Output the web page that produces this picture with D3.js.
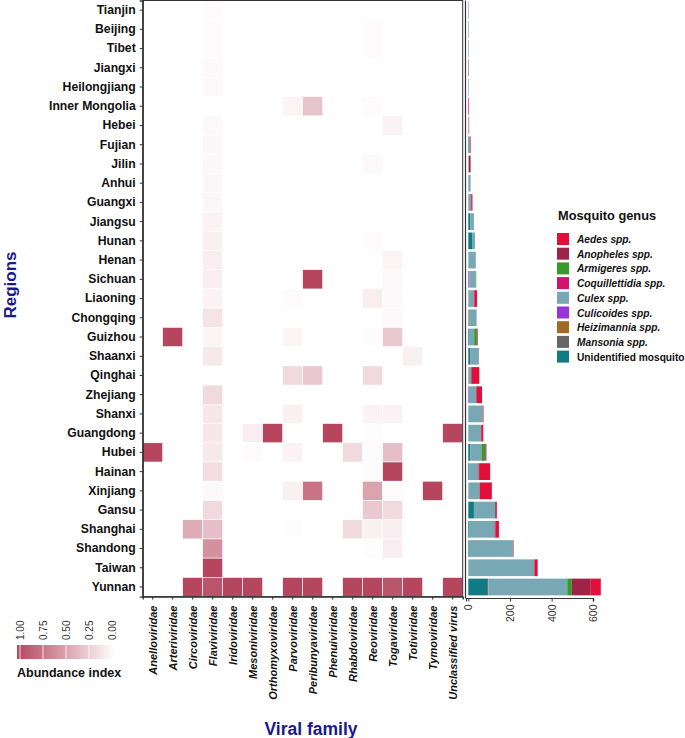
<!DOCTYPE html>
<html>
<head>
<meta charset="utf-8">
<script src="https://cdn.jsdelivr.net/npm/d3@7"></script>
<style>
  body { margin: 0; background: #fff; }
  text { font-family: "Liberation Sans", Arial, sans-serif; }
</style>
</head>
<body>
<svg id="chart" width="685" height="738"></svg>
<script>
var regions = ["Tianjin", "Beijing", "Tibet", "Jiangxi", "Heilongjiang", "Inner Mongolia", "Hebei",
  "Fujian", "Jilin", "Anhui", "Guangxi", "Jiangsu", "Hunan", "Henan", "Sichuan", "Liaoning",
  "Chongqing", "Guizhou", "Shaanxi", "Qinghai", "Zhejiang", "Shanxi", "Guangdong", "Hubei",
  "Hainan", "Xinjiang", "Gansu", "Shanghai", "Shandong", "Taiwan", "Yunnan"];

var families = ["Anelloviridae", "Arteriviridae", "Circoviridae", "Flaviviridae", "Iridoviridae",
  "Mesoniviridae", "Orthomyxoviridae", "Parvoviridae", "Peribunyaviridae", "Phenuiviridae",
  "Rhabdoviridae", "Reoviridae", "Togaviridae", "Totiviridae", "Tymoviridae", "Unclassified virus"];

// abundance index, one row per region, columns follow families
var abundance = [
  [0, 0, 0, 0.02, 0, 0, 0, 0, 0, 0, 0, 0, 0, 0, 0, 0],
  [0, 0, 0, 0.02, 0, 0, 0, 0, 0, 0, 0, 0.02, 0, 0, 0, 0],
  [0, 0, 0, 0.02, 0, 0, 0, 0, 0, 0, 0, 0.02, 0, 0, 0, 0],
  [0, 0, 0, 0.03, 0, 0, 0, 0, 0, 0, 0, 0, 0, 0, 0, 0],
  [0, 0, 0, 0.03, 0, 0, 0, 0, 0, 0, 0, 0, 0, 0, 0, 0],
  [0, 0, 0, 0, 0, 0, 0, 0.06, 0.32, 0, 0, 0.02, 0, 0, 0, 0],
  [0, 0, 0, 0.03, 0, 0, 0, 0, 0, 0, 0, 0, 0.07, 0, 0, 0],
  [0, 0, 0, 0.04, 0, 0, 0, 0, 0, 0, 0, 0, 0, 0, 0, 0],
  [0, 0, 0, 0.04, 0, 0, 0, 0, 0, 0, 0, 0.03, 0, 0, 0, 0],
  [0, 0, 0, 0.05, 0, 0, 0, 0, 0, 0, 0, 0, 0, 0, 0, 0],
  [0, 0, 0, 0.05, 0, 0, 0, 0, 0, 0, 0, 0, 0, 0, 0, 0],
  [0, 0, 0, 0.07, 0, 0, 0, 0, 0, 0, 0, 0, 0, 0, 0, 0],
  [0, 0, 0, 0.08, 0, 0, 0, 0, 0, 0, 0, 0.02, 0, 0, 0, 0],
  [0, 0, 0, 0.09, 0, 0, 0, 0, 0, 0, 0, 0, 0.06, 0, 0, 0],
  [0, 0, 0, 0.09, 0, 0, 0, 0, 1, 0, 0, 0, 0.03, 0, 0, 0],
  [0, 0, 0, 0.07, 0, 0, 0, 0.02, 0, 0, 0, 0.1, 0.03, 0, 0, 0],
  [0, 0, 0, 0.15, 0, 0, 0, 0, 0, 0, 0, 0, 0.03, 0, 0, 0],
  [0, 1, 0, 0.06, 0, 0, 0, 0.06, 0, 0, 0, 0.02, 0.3, 0, 0, 0],
  [0, 0, 0, 0.12, 0, 0, 0, 0, 0, 0, 0, 0, 0, 0.08, 0, 0],
  [0, 0, 0, 0, 0, 0, 0, 0.2, 0.3, 0, 0, 0.2, 0, 0, 0, 0],
  [0, 0, 0, 0.2, 0, 0, 0, 0, 0, 0, 0, 0, 0, 0, 0, 0],
  [0, 0, 0, 0.13, 0, 0, 0, 0.08, 0, 0, 0, 0.07, 0.07, 0, 0, 0],
  [0, 0, 0, 0.13, 0, 0.09, 1, 0, 0, 1, 0, 0.01, 0, 0, 0, 1],
  [1, 0, 0, 0.12, 0, 0.02, 0, 0.07, 0, 0, 0.2, 0.02, 0.35, 0, 0, 0],
  [0, 0, 0, 0.18, 0, 0, 0, 0, 0, 0, 0, 0.02, 1, 0, 0, 0],
  [0, 0, 0, 0.03, 0, 0, 0, 0.08, 0.75, 0, 0, 0.5, 0.02, 0, 1, 0],
  [0, 0, 0, 0.2, 0, 0, 0, 0, 0, 0, 0, 0.3, 0.2, 0, 0, 0],
  [0, 0, 0.45, 0.35, 0, 0, 0, 0.01, 0, 0, 0.2, 0.08, 0.09, 0, 0, 0],
  [0, 0, 0, 0.6, 0, 0, 0, 0, 0, 0, 0, 0.01, 0.09, 0, 0, 0],
  [0, 0, 0, 1, 0, 0, 0, 0, 0, 0, 0, 0, 0, 0, 0, 0],
  [0, 0, 1, 0.92, 1, 1, 0, 1, 1, 0, 1, 1, 0.92, 1, 0, 1]
];

// mosquito counts per region (same order as regions)
var aedes          = [0, 0, 0, 0, 0, 0, 2, 3, 0, 0, 6, 0, 0, 0, 0, 13, 0, 0, 0, 37, 26, 3, 10, 0, 53, 59, 4, 16, 2, 16, 48];
var anopheles      = [0, 0, 0, 2, 0, 0, 0, 0, 9, 0, 0, 0, 0, 0, 0, 3, 0, 4, 0, 3, 3, 0, 0, 5, 3, 0, 5, 5, 0, 0, 91];
var armigeres      = [0, 0, 0, 0, 0, 0, 0, 0, 0, 0, 0, 0, 0, 0, 2, 0, 0, 13, 0, 0, 0, 0, 0, 19, 0, 0, 0, 0, 0, 0, 22];
var coquillettidia = [0, 0, 0, 0, 0, 3, 0, 0, 0, 0, 0, 0, 0, 0, 0, 0, 0, 0, 0, 0, 0, 0, 0, 0, 0, 0, 0, 0, 0, 0, 0];
var culex          = [3, 3, 2, 1, 2, 0, 2, 5, 2, 11, 14, 17, 14, 36, 31, 26, 37, 22, 40, 13, 34, 70, 62, 53, 45, 54, 102, 120, 213, 317, 379];
var culicoides     = [0, 0, 0, 0, 0, 0, 0, 0, 0, 0, 0, 0, 0, 0, 5, 0, 0, 0, 0, 0, 3, 0, 0, 0, 0, 0, 0, 0, 0, 0, 0];
var heizimannia    = [0, 0, 0, 0, 0, 0, 0, 0, 0, 0, 0, 0, 0, 0, 0, 0, 3, 0, 0, 0, 0, 0, 0, 0, 0, 0, 0, 0, 0, 0, 0];
var mansonia       = [0, 0, 0, 0, 0, 0, 0, 0, 0, 0, 0, 0, 0, 0, 0, 0, 0, 0, 2, 0, 0, 0, 0, 0, 0, 0, 0, 0, 0, 0, 6];
var unidentified   = [0, 0, 1, 0, 1, 0, 0, 3, 0, 0, 0, 10, 18, 0, 0, 0, 0, 6, 9, 0, 0, 0, 0, 10, 4, 0, 27, 6, 3, 0, 90];

var genera = ["Aedes spp.", "Anopheles spp.", "Armigeres spp.", "Coquillettidia spp.", "Culex spp.",
  "Culicoides spp.", "Heizimannia spp.", "Mansonia spp.", "Unidentified mosquito"];
var genusValues = [aedes, anopheles, armigeres, coquillettidia, culex, culicoides, heizimannia, mansonia, unidentified];
var genusColors = ["#e0103a", "#9e2348", "#379a2b", "#d2136e", "#78a8b3", "#9a33d6", "#a06a28", "#666666", "#0f7b83"];

var barTicks = [0, 200, 400, 600];
var legendTicks = [1, 0.75, 0.5, 0.25, 0];

var svg = d3.select("#chart");
var navy = "#1a1a8c";

// heatmap
var y = d3.scaleBand().domain(regions).range([0.5, 596.6]);
var x = d3.scaleBand().domain(families).range([142.7, 462.7]);
var fill = d3.scaleLinear().domain([0, 1]).range(["#ffffff", "#b5465e"]);

var cells = [];
abundance.forEach(function (row, i) {
  row.forEach(function (v, j) {
    if (v > 0) cells.push({ region: regions[i], family: families[j], v: v });
  });
});

svg.append("g")
  .selectAll("rect")
  .data(cells)
  .enter()
  .append("rect")
  .attr("x", function (d) { return x(d.family); })
  .attr("y", function (d) { return y(d.region); })
  .attr("width", x.bandwidth())
  .attr("height", y.bandwidth())
  .attr("fill", function (d) { return fill(d.v); })
  .attr("stroke", "#fff")
  .attr("stroke-width", 0.6);

svg.append("rect")
  .attr("x", 142.7).attr("y", 0.5)
  .attr("width", 320).attr("height", 596.1)
  .attr("fill", "none").attr("stroke", "#333").attr("stroke-width", 1);

var yAxis = svg.append("g")
  .attr("transform", "translate(142.7,0)")
  .call(d3.axisLeft(y).tickSize(3).tickPadding(4));
yAxis.select(".domain").attr("stroke", "#333").attr("stroke-width", 1.4);
yAxis.selectAll("line").attr("stroke", "#333");
yAxis.selectAll("text")
  .attr("font-size", 12.2).attr("font-weight", "bold").attr("fill", "#111")
  .style("font-family", "'Liberation Sans', Arial, sans-serif");

var xAxis = svg.append("g")
  .attr("transform", "translate(0,596.6)")
  .call(d3.axisBottom(x).tickSize(3));
xAxis.select(".domain").attr("stroke", "#333").attr("stroke-width", 1.4);
xAxis.selectAll("line").attr("stroke", "#333");
xAxis.selectAll("text")
  .attr("font-size", 11).attr("font-weight", "bold").attr("font-style", "italic").attr("fill", "#111")
  .style("font-family", "'Liberation Sans', Arial, sans-serif")
  .attr("text-anchor", "end")
  .attr("dy", "0.35em")
  .attr("transform", "translate(0,3) rotate(-90)")
  .attr("x", -6).attr("y", 0);

svg.append("text")
  .attr("transform", "translate(15.5,285) rotate(-90)")
  .attr("text-anchor", "middle")
  .attr("font-size", 17).attr("font-weight", "bold").attr("fill", navy)
  .text("Regions");

svg.append("text")
  .attr("x", 311).attr("y", 735)
  .attr("text-anchor", "middle")
  .attr("font-size", 17.5).attr("font-weight", "bold").attr("fill", navy)
  .text("Viral family");

// stacked bars
var stackOrder = ["Unidentified mosquito", "Mansonia spp.", "Heizimannia spp.", "Culicoides spp.",
  "Culex spp.", "Coquillettidia spp.", "Armigeres spp.", "Anopheles spp.", "Aedes spp."];
var rows = regions.map(function (r, i) {
  var o = { region: r };
  genera.forEach(function (g, k) { o[g] = genusValues[k][i]; });
  return o;
});
var series = d3.stack().keys(stackOrder)(rows);
var color = d3.scaleOrdinal().domain(genera).range(genusColors);
var xb = d3.scaleLinear().domain([0, 600]).range([468.3, 593.3]);
var barH = y.bandwidth() * 0.87;

svg.append("g")
  .selectAll("g")
  .data(series)
  .enter()
  .append("g")
  .attr("fill", function (d) { return color(d.key); })
  .selectAll("rect")
  .data(function (d) { return d; })
  .enter()
  .append("rect")
  .attr("x", function (d) { return xb(d[0]); })
  .attr("y", function (d) { return y(d.data.region) + (y.bandwidth() - barH) / 2; })
  .attr("width", function (d) { return Math.max(0, xb(d[1]) - xb(d[0])); })
  .attr("height", barH);

var bAxis = svg.append("g")
  .attr("transform", "translate(0,598.5)")
  .call(d3.axisBottom(xb).tickValues(barTicks).tickSize(3));
bAxis.select(".domain").attr("stroke", "#333").attr("stroke-width", 1.2).attr("d", "M466.5,3V0H593.3V3");
bAxis.selectAll("line").attr("stroke", "#333");
bAxis.selectAll("text")
  .attr("font-size", 10.5).attr("fill", "#333")
  .attr("text-anchor", "end")
  .attr("dy", "0.35em")
  .attr("transform", "rotate(-90)")
  .attr("x", -6).attr("y", 0);

svg.append("line")
  .attr("x1", 465.5).attr("x2", 465.5).attr("y1", 0.5).attr("y2", 598.5)
  .attr("stroke", "#333").attr("stroke-width", 1.2);

// genus legend
var leg = svg.append("g").attr("transform", "translate(557,0)");
leg.append("text")
  .attr("x", 1).attr("y", 220)
  .attr("font-size", 12.8).attr("font-weight", "bold").attr("fill", "#111")
  .text("Mosquito genus");
var item = leg.selectAll(".item")
  .data(genera)
  .enter()
  .append("g")
  .attr("class", "item")
  .attr("transform", function (d, i) { return "translate(0," + (233 + i * 14.7) + ")"; });
item.append("rect")
  .attr("width", 12).attr("height", 12)
  .attr("fill", function (d) { return color(d); });
item.append("text")
  .attr("x", 20).attr("y", 10)
  .attr("font-size", 10.2).attr("font-weight", "bold")
  .attr("font-style", function (d, i) { return i < 8 ? "italic" : "normal"; })
  .attr("fill", "#111")
  .text(function (d) { return d; });

// colour bar
var grad = svg.append("defs").append("linearGradient")
  .attr("id", "abund").attr("x1", "0%").attr("x2", "100%");
grad.append("stop").attr("offset", "0%").attr("stop-color", fill(1));
grad.append("stop").attr("offset", "100%").attr("stop-color", fill(0));

var cb = d3.scaleLinear().domain([1, 0]).range([20, 112]);
svg.append("rect")
  .attr("x", 17).attr("y", 645).attr("width", 98).attr("height", 14)
  .attr("fill", "url(#abund)");
svg.append("g")
  .selectAll("line")
  .data(legendTicks)
  .enter()
  .append("line")
  .attr("x1", cb).attr("x2", cb)
  .attr("y1", 645).attr("y2", 659)
  .attr("stroke", "#fff").attr("stroke-width", 0.8);
svg.append("g")
  .selectAll("text")
  .data(legendTicks)
  .enter()
  .append("text")
  .attr("transform", function (d) { return "translate(" + (cb(d) + 3.5) + ",640) rotate(-90)"; })
  .attr("font-size", 10).attr("fill", "#333")
  .text(function (d) { return d3.format(".2f")(d); });
svg.append("text")
  .attr("x", 17).attr("y", 677)
  .attr("font-size", 12.5).attr("font-weight", "bold").attr("fill", "#111")
  .text("Abundance index");
</script>
</body>
</html>
